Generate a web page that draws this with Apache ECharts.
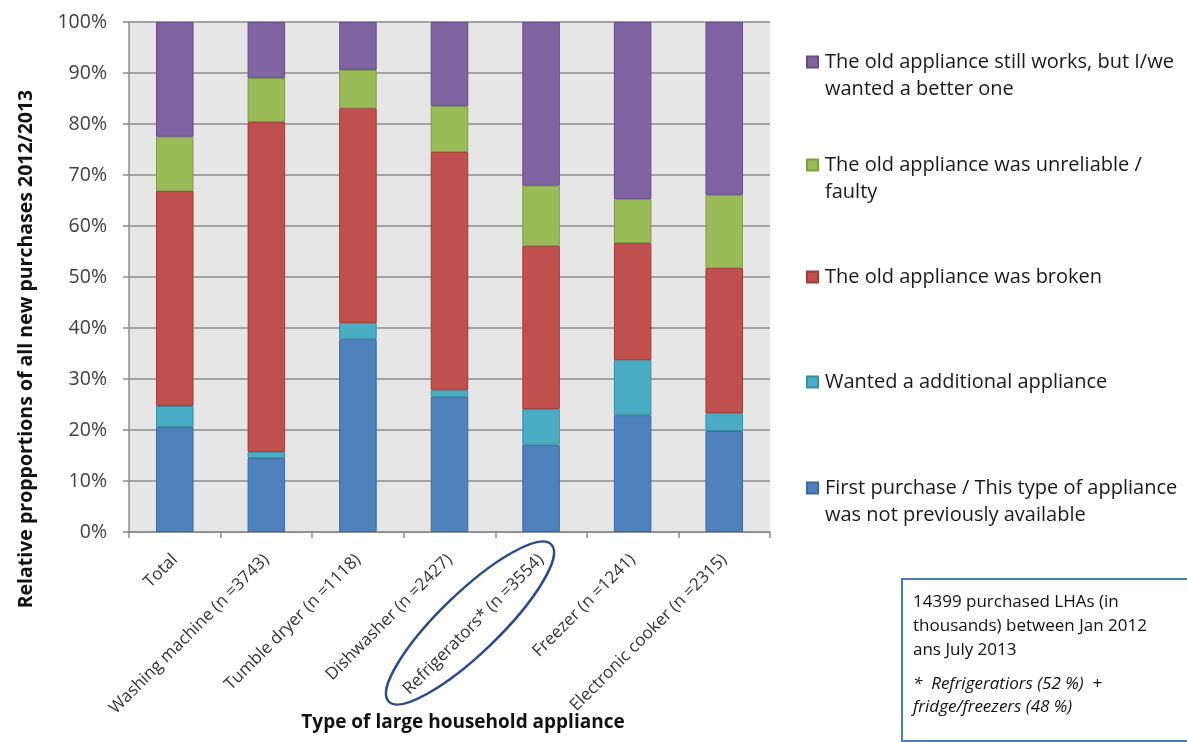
<!DOCTYPE html>
<html>
<head>
<meta charset="utf-8">
<script src="https://cdn.jsdelivr.net/npm/echarts@6/dist/echarts.min.js"></script>
<style>
  html, body { margin: 0; padding: 0; background: #ffffff; }
  #chart { width: 1187px; height: 742px; }
</style>
</head>
<body>
<div id="chart"></div>
<script>
// Appliance categories along the x axis
const categories = [
  'Total',
  'Washing machine (n =3743)',
  'Tumble dryer (n =1118)',
  'Dishwasher (n =2427)',
  'Refrigerators* (n =3554)',
  'Freezer (n =1241)',
  'Electronic cooker (n =2315)'
];

// Share of purchases (%) per reason, stacked bottom to top
const firstPurchase = [20.6, 14.5, 37.8, 26.5, 17.1, 22.9, 19.8];
const additional    = [4.1, 1.2, 3.2, 1.3, 7.0, 10.8, 3.5];
const broken        = [42.2, 64.7, 42.1, 46.7, 32.0, 23.0, 28.5];
const unreliable    = [10.6, 8.6, 7.5, 9.0, 11.8, 8.6, 14.3];
const betterOne     = [22.5, 11.0, 9.4, 16.5, 32.1, 34.7, 33.9];

const seriesNames = [
  'First purchase / This type of appliance\nwas not previously available',
  'Wanted a additional appliance',
  'The old appliance was broken',
  'The old appliance was unreliable /\nfaulty',
  'The old appliance still works, but I/we\nwanted a better one'
];
const seriesColors = ['#4f81bd', '#4bacc6', '#c0504d', '#9bbb59', '#8064a2'];
const seriesBorders = ['#3f6a9e', '#3b8da3', '#9e3e3b', '#7f9c46', '#654e85'];
const seriesData = [firstPurchase, additional, broken, unreliable, betterOne];

const yTicks = [0, 10, 20, 30, 40, 50, 60, 70, 80, 90, 100];

const FONT = '"Open Sans", "Liberation Sans", sans-serif';

const chart = echarts.init(document.getElementById('chart'), null, { renderer: 'canvas' });

// One legend block per reason, listed top (purple) to bottom (blue).
// Two-line entries get an empty leading line so the swatch sits beside the first line.
const legendTops = [21.5, 124.5, 263.5, 368.5, 447.5];
const legendOrder = [4, 3, 2, 1, 0];
const legends = legendOrder.map((idx, k) => ({
  data: [seriesNames[idx]],
  left: 806,
  top: legendTops[k],
  padding: 0,
  orient: 'vertical',
  icon: 'rect',
  itemWidth: 11,
  itemHeight: 11,
  itemGap: 0,
  selectedMode: false,
  formatter: (name) => (name.indexOf('\n') >= 0 ? '\n' + name : name),
  textStyle: {
    fontFamily: FONT,
    fontSize: 20,
    color: '#1a1a1a',
    lineHeight: 27,
    padding: [0, 0, 0, 2]
  }
}));

const option = {
  animation: false,
  backgroundColor: '#ffffff',
  textStyle: { fontFamily: FONT },
  legend: legends,
  grid: {
    left: 129,
    right: 417,
    top: 22,
    bottom: 210,
    show: true,
    backgroundColor: '#e6e6e6',
    borderWidth: 0
  },
  xAxis: {
    type: 'category',
    data: categories,
    boundaryGap: true,
    axisLine: { show: true, lineStyle: { color: '#8c8c8c', width: 1.5 } },
    axisTick: { show: true, alignWithLabel: false, length: 6, lineStyle: { color: '#8c8c8c', width: 1.5 } },
    axisLabel: {
      interval: 0,
      rotate: 45,
      margin: 25,
      fontSize: 17,
      color: '#333333',
      fontFamily: FONT
    }
  },
  yAxis: {
    type: 'value',
    min: yTicks[0],
    max: yTicks[yTicks.length - 1],
    interval: 10,
    axisLine: { show: true, lineStyle: { color: '#8c8c8c', width: 1.5 } },
    axisTick: { show: true, length: 6, lineStyle: { color: '#8c8c8c', width: 1.5 } },
    splitLine: { show: true, lineStyle: { color: '#a3a3a3', width: 2 } },
    axisLabel: {
      formatter: '{value}%',
      fontSize: 19.5,
      color: '#404040',
      margin: 22,
      fontFamily: FONT
    }
  },
  series: seriesData.map((d, i) => ({
    name: seriesNames[i],
    type: 'bar',
    stack: 'reasons',
    data: d,
    barWidth: '41%',
    itemStyle: { color: seriesColors[i], borderColor: seriesBorders[i], borderWidth: 1 }
  })),
  graphic: [
    {
      type: 'text',
      x: 26,
      y: 349,
      rotation: Math.PI / 2,
      style: {
        text: 'Relative propportions of all new purchases 2012/2013',
        font: 'bold 19.5px ' + FONT,
        fill: '#111111',
        align: 'center',
        verticalAlign: 'middle'
      }
    },
    {
      type: 'text',
      x: 463,
      y: 723,
      style: {
        text: 'Type of large household appliance',
        font: 'bold 19px ' + FONT,
        fill: '#111111',
        align: 'center',
        verticalAlign: 'middle'
      }
    },
    {
      type: 'ellipse',
      shape: { cx: 0, cy: 0, rx: 113, ry: 30 },
      x: 470,
      y: 623,
      rotation: 44 * Math.PI / 180,
      style: { fill: 'none', stroke: '#2a4a8f', lineWidth: 2.5 }
    },
    {
      type: 'rect',
      shape: { x: 902, y: 579, width: 300, height: 162 },
      style: { fill: '#ffffff', stroke: '#4a7ebb', lineWidth: 2 }
    },
    {
      type: 'text',
      x: 913,
      y: 590,
      style: {
        text: '14399 purchased LHAs (in\nthousands) between Jan 2012\nans July 2013',
        font: '17px ' + FONT,
        lineHeight: 24,
        fill: '#111111'
      }
    },
    {
      type: 'text',
      x: 913,
      y: 673,
      style: {
        text: '*  Refrigeratiors (52 %)  +\nfridge/freezers (48 %)',
        font: 'italic 17px ' + FONT,
        lineHeight: 23,
        fill: '#111111'
      }
    }
  ]
};

chart.setOption(option);
</script>
</body>
</html>
